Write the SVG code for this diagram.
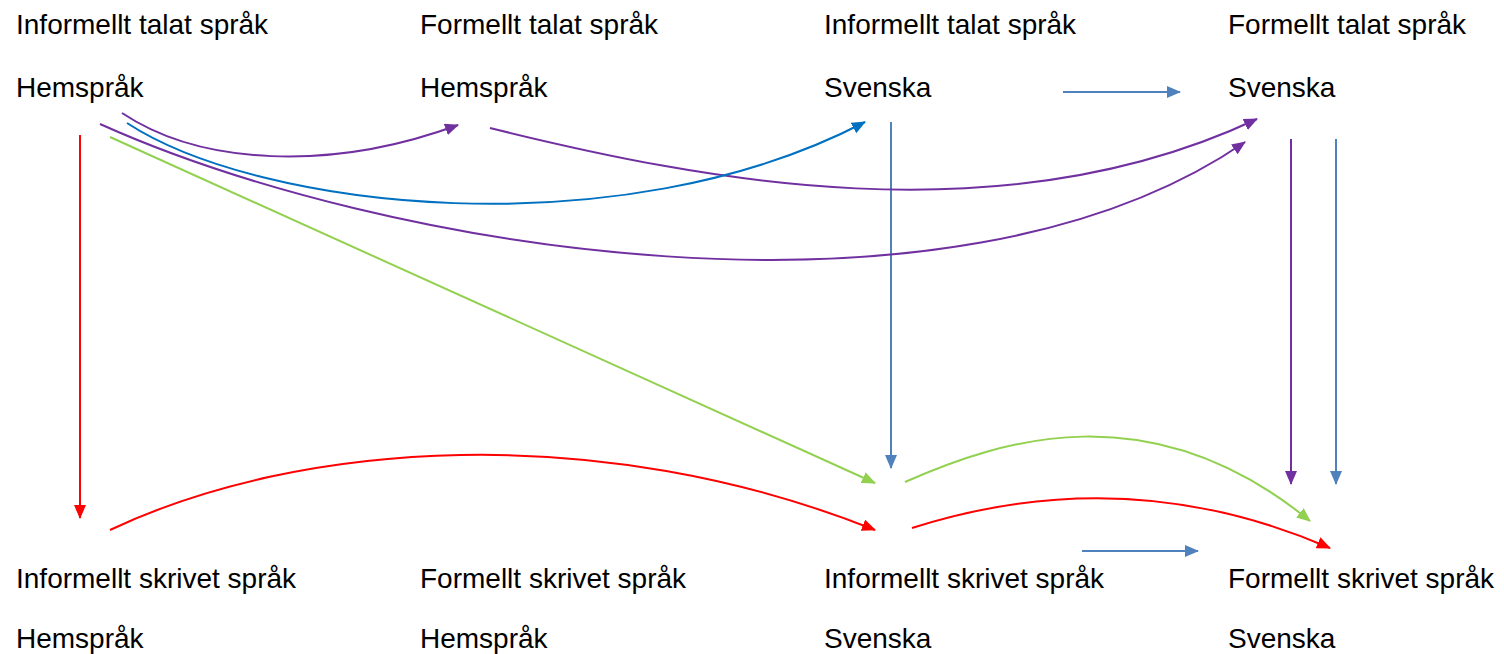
<svg xmlns="http://www.w3.org/2000/svg" width="1504" height="654" viewBox="0 0 1504 654">
<style>
text{font-family:"Liberation Sans",Arial,sans-serif;font-size:28px;fill:#000}
.c{fill:none;stroke-width:2}
.pu{stroke:#7030a0}.rd{stroke:#ff0000}.gr{stroke:#92d050}.bl{stroke:#0070c0}.sb{stroke:#4f81bd}
</style>
<defs>
<marker id="mpu" markerUnits="userSpaceOnUse" markerWidth="16" markerHeight="14" refX="13" refY="6" orient="auto"><path d="M0,0L14,6L0,12z" fill="#7030a0"/></marker>
<marker id="mrd" markerUnits="userSpaceOnUse" markerWidth="16" markerHeight="14" refX="13" refY="6" orient="auto"><path d="M0,0L14,6L0,12z" fill="#ff0000"/></marker>
<marker id="mgr" markerUnits="userSpaceOnUse" markerWidth="16" markerHeight="14" refX="13" refY="6" orient="auto"><path d="M0,0L14,6L0,12z" fill="#92d050"/></marker>
<marker id="mbl" markerUnits="userSpaceOnUse" markerWidth="16" markerHeight="14" refX="13" refY="6" orient="auto"><path d="M0,0L14,6L0,12z" fill="#0070c0"/></marker>
<marker id="msb" markerUnits="userSpaceOnUse" markerWidth="16" markerHeight="14" refX="13" refY="6" orient="auto"><path d="M0,0L14,6L0,12z" fill="#4f81bd"/></marker>
</defs>
<g id="n1"><text x="16" y="34">Informellt talat språk</text><text x="16" y="97">Hemspråk</text></g>
<g id="n2"><text x="420" y="34">Formellt talat språk</text><text x="420" y="97">Hemspråk</text></g>
<g id="n3"><text x="824" y="34">Informellt talat språk</text><text x="824" y="97">Svenska</text></g>
<g id="n4"><text x="1228" y="34">Formellt talat språk</text><text x="1228" y="97">Svenska</text></g>
<g id="n5"><text x="16" y="588">Informellt skrivet språk</text><text x="16" y="648">Hemspråk</text></g>
<g id="n6"><text x="420" y="588">Formellt skrivet språk</text><text x="420" y="648">Hemspråk</text></g>
<g id="n7"><text x="824" y="588">Informellt skrivet språk</text><text x="824" y="648">Svenska</text></g>
<g id="n8"><text x="1228" y="588">Formellt skrivet språk</text><text x="1228" y="648">Svenska</text></g>
<g id="connectors">
<path class="c rd" d="M80,135V518" marker-end="url(#mrd)"/>
<path class="c rd" d="M110,530C300,440 600,420 875,530" marker-end="url(#mrd)"/>
<path class="c rd" d="M912,528C1000,500 1150,470 1330,548" marker-end="url(#mrd)"/>
<path class="c gr" d="M110,137L875,483" marker-end="url(#mgr)"/>
<path class="c gr" d="M905,482C1000,440 1150,390 1310,521" marker-end="url(#mgr)"/>
<path class="c sb" d="M891,122V468" marker-end="url(#msb)"/>
<path class="c sb" d="M1063,92H1180" marker-end="url(#msb)"/>
<path class="c sb" d="M1082,551H1198" marker-end="url(#msb)"/>
<path class="c pu" d="M1291,139V484" marker-end="url(#mpu)"/>
<path class="c sb" d="M1336,139V484" marker-end="url(#msb)"/>
<path class="c pu" d="M122,113C200,165 330,172 458,125" marker-end="url(#mpu)"/>
<path class="c pu" d="M490,128C700,180 1000,240 1257,119" marker-end="url(#mpu)"/>
<path class="c bl" d="M127,123C260,210 620,250 865,122" marker-end="url(#mbl)"/>
<path class="c pu" d="M100,124C380,250 950,345 1245,142" marker-end="url(#mpu)"/>
</g>
</svg>
